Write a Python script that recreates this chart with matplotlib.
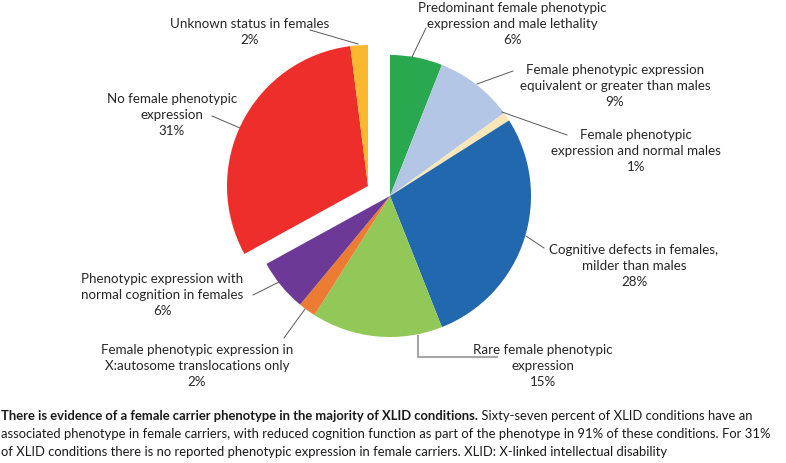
import matplotlib
matplotlib.use('Agg')
import matplotlib.pyplot as plt

plt.rcParams['font.family'] = ['Lato', 'DejaVu Sans']

# slice data, clockwise from 12 o'clock
names = ['Predominant female phenotypic\nexpression and male lethality',
         'Female phenotypic expression\nequivalent or greater than males',
         'Female phenotypic\nexpression and normal males',
         'Cognitive defects in females,\nmilder than males',
         'Rare female phenotypic\nexpression',
         'Female phenotypic expression in\nX:autosome translocations only',
         'Phenotypic expression with\nnormal cognition in females',
         'No female phenotypic\nexpression',
         'Unknown status in females']
values = [6, 9, 1, 28, 15, 2, 6, 31, 2]
colors = ['#2aa84f', '#b4c6e6', '#fbe6b8', '#2268ae', '#92c857',
          '#ec7c33', '#6c3996', '#ee2e2b', '#f9b82d']
pulled = [False, False, False, False, False, False, False, True, True]

caption_bold = 'There is evidence of a female carrier phenotype in the majority of XLID conditions.'
caption_lines = [' Sixty-seven percent of XLID conditions have an',
                 'associated phenotype in female carriers, with reduced cognition function as part of the phenotype in 91% of these conditions. For 31%',
                 'of XLID conditions there is no reported phenotypic expression in female carriers. XLID: X-linked intellectual disability']

W, H = 786, 464
fig = plt.figure(figsize=(W / 100, H / 100), dpi=100)
ax = fig.add_axes([0, 0, 1, 1])

cx, cy, r = 390, H - 197, 141
wedges, _ = ax.pie(values, colors=colors, startangle=90, counterclock=False,
                   center=(cx, cy), radius=r, wedgeprops=dict(linewidth=0))
# pulled-out slices share one offset
for w, p in zip(wedges, pulled):
    if p:
        w.set_center((cx - 22, cy + 10))

ax.set_xlim(0, W)
ax.set_ylim(0, H)
ax.set_aspect('equal')
ax.axis('off')

# label layout in pixel coords: text block centre, leader start, leader end
label_pos = [(512, 24), (615, 86), (636, 151), (634, 266), (543, 366),
             (197, 366), (162, 295), (172, 115), (250, 32)]
leaders = [((412, 58), (426, 29)), ((477, 85), (513, 72)), ((502, 113), (567, 136)),
           ((526, 237), (544, 249)), None, ((305, 310), (284, 339)),
           ((279, 283), (253, 296)), ((240, 129), (212, 117)), ((358, 45), (310, 31))]

for name, v, (tx, ty), ld in zip(names, values, label_pos, leaders):
    ax.text(tx, H - ty, f'{name}\n{v}%', ha='center', va='center',
            fontsize=9.6, linespacing=1.4, color='#262626')
    if ld:
        (x0, y0), (x1, y1) = ld
        ax.plot([x0, x1], [H - y0, H - y1], color='#595959', lw=0.7)

# elbow leader for the rare slice
ax.plot([418, 418, 497], [H - 337, H - 358, H - 358], color='#a6a6a6', lw=1.5)

fs = 9.4
t1 = fig.text(1 / W, 1 - 420 / H, caption_bold, fontsize=fs, fontweight='bold',
              va='baseline', color='#1a1a1a')
ax.annotate(caption_lines[0], xy=(1, 0), xycoords=t1, va='bottom', fontsize=fs,
            color='#1a1a1a')
fig.text(1 / W, 1 - 438 / H, caption_lines[1], fontsize=fs, va='baseline', color='#1a1a1a')
fig.text(1 / W, 1 - 456 / H, caption_lines[2], fontsize=fs, va='baseline', color='#1a1a1a')

fig.savefig('out.png', dpi=100)
